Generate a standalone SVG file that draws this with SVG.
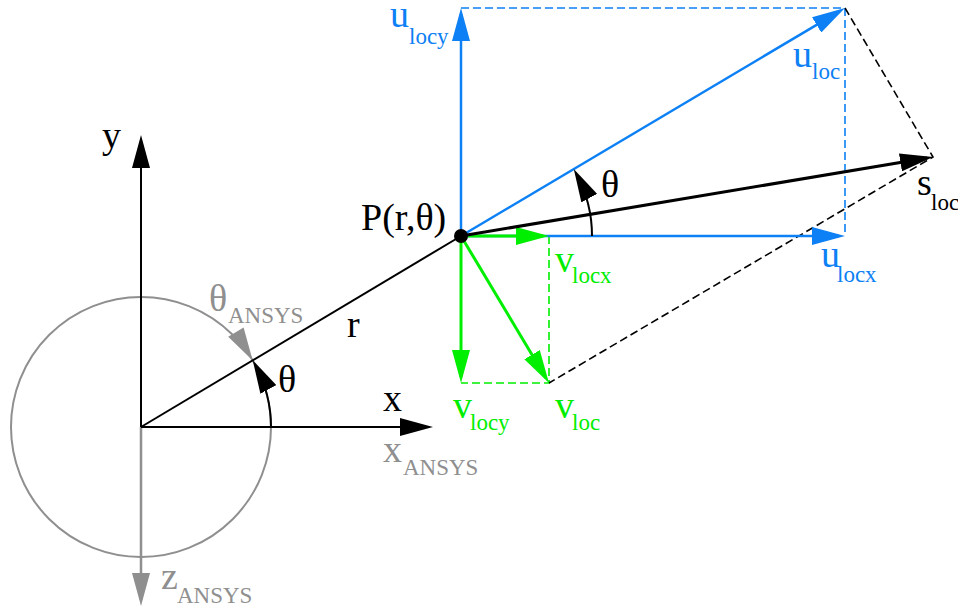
<svg xmlns="http://www.w3.org/2000/svg" width="958" height="607" viewBox="0 0 958 607">
<style>
text{font-family:"Liberation Serif","Times New Roman",serif;font-size:38px}
.sub{font-size:23px}
.k{fill:#000}
.g{fill:#8f8f8f}
.b{fill:#0c80f4}
.gr{fill:#00ee00}
.ln{fill:none;stroke-linecap:butt}
.dash{fill:none;stroke-width:1.6;stroke-dasharray:8,4}
</style>
<defs>
<marker id="ak" markerUnits="userSpaceOnUse" markerWidth="33" markerHeight="18" viewBox="0 0 33 18" refX="27" refY="9" orient="auto"><path d="M0,0 L33,9 L0,18 z" fill="#000"/></marker>
<marker id="ab" markerUnits="userSpaceOnUse" markerWidth="33" markerHeight="18" viewBox="0 0 33 18" refX="27" refY="9" orient="auto"><path d="M0,0 L33,9 L0,18 z" fill="#0c80f4"/></marker>
<marker id="ag" markerUnits="userSpaceOnUse" markerWidth="33" markerHeight="18" viewBox="0 0 33 18" refX="27" refY="9" orient="auto"><path d="M0,0 L33,9 L0,18 z" fill="#00ee00"/></marker>
<marker id="ay" markerUnits="userSpaceOnUse" markerWidth="33" markerHeight="18" viewBox="0 0 33 18" refX="27" refY="9" orient="auto"><path d="M0,0 L33,9 L0,18 z" fill="#8f8f8f"/></marker>
</defs>
<rect width="958" height="607" fill="#fff"/>

<g id="connectors">
  <circle cx="141" cy="427" r="130" fill="none" stroke="#8f8f8f" stroke-width="2"/>
  <line x1="141" y1="427" x2="141" y2="600" class="ln" stroke="#8f8f8f" stroke-width="2.5" marker-end="url(#ay)"/>
  <polygon points="228.2,336.7 243.6,327.5 252.7,360.5" fill="#8f8f8f"/>
  <line x1="141" y1="427" x2="141" y2="141" class="ln" stroke="#000" stroke-width="2" marker-end="url(#ak)"/>
  <line x1="141" y1="427" x2="427" y2="427" class="ln" stroke="#000" stroke-width="2" marker-end="url(#ak)"/>
  <line x1="141" y1="427" x2="461" y2="236" class="ln" stroke="#000" stroke-width="2"/>
  <path d="M271,427 A130,130 0 0 0 255.6,365.6" class="ln" stroke="#000" stroke-width="2" marker-end="url(#ak)"/>
  <path d="M461,8 H845 V236" class="dash" stroke="#0c80f4"/>
  <path d="M549,236 V383 H461" class="dash" stroke="#00ee00"/>
  <path d="M845,8 L933,157 L549,383" class="dash" stroke="#000"/>
  <line x1="461" y1="236" x2="461" y2="14" class="ln" stroke="#0c80f4" stroke-width="2.5" marker-end="url(#ab)"/>
  <line x1="461" y1="236" x2="839" y2="236" class="ln" stroke="#0c80f4" stroke-width="2.5" marker-end="url(#ab)"/>
  <line x1="461" y1="236" x2="839.8" y2="11.1" class="ln" stroke="#0c80f4" stroke-width="2.5" marker-end="url(#ab)"/>
  <line x1="461" y1="236" x2="543" y2="236" class="ln" stroke="#00ee00" stroke-width="3" marker-end="url(#ag)"/>
  <line x1="461" y1="236" x2="461" y2="377" class="ln" stroke="#00ee00" stroke-width="3" marker-end="url(#ag)"/>
  <line x1="461" y1="236" x2="545.9" y2="377.9" class="ln" stroke="#00ee00" stroke-width="3" marker-end="url(#ag)"/>
  <line x1="461" y1="236" x2="927.1" y2="158" class="ln" stroke="#000" stroke-width="3" marker-end="url(#ak)"/>
  <path d="M592,236 A131,131 0 0 0 576.6,174.3" class="ln" stroke="#000" stroke-width="2" marker-end="url(#ak)"/>
</g>

<g id="P">
  <circle cx="461" cy="236" r="7" fill="#000"/>
  <text x="361" y="230" class="k">P(r,θ)</text>
</g>
<g id="label-y"><text x="102" y="148" class="k">y</text></g>
<g id="label-x"><text x="383" y="411" class="k">x</text></g>
<g id="label-r"><text x="347" y="337" class="k">r</text></g>
<g id="label-theta"><text x="278" y="392" class="k">θ</text></g>
<g id="label-theta-p"><text x="601" y="197" class="k">θ</text></g>
<g id="label-xansys"><text class="g"><tspan x="383" y="462">x</tspan><tspan x="403" y="475" class="sub">ANSYS</tspan></text></g>
<g id="label-zansys"><text class="g"><tspan x="161" y="589">z</tspan><tspan x="177" y="603" class="sub">ANSYS</tspan></text></g>
<g id="label-thetaansys"><text class="g"><tspan x="209" y="311">θ</tspan><tspan x="228" y="323" class="sub">ANSYS</tspan></text></g>
<g id="label-ulocy"><text class="b"><tspan x="390" y="27">u</tspan><tspan x="409" y="44" class="sub">locy</tspan></text></g>
<g id="label-uloc"><text class="b"><tspan x="793" y="67">u</tspan><tspan x="812" y="79" class="sub">loc</tspan></text></g>
<g id="label-ulocx"><text class="b"><tspan x="821" y="267">u</tspan><tspan x="837" y="282" class="sub">locx</tspan></text></g>
<g id="label-sloc"><text class="k"><tspan x="917" y="195">s</tspan><tspan x="931" y="210" class="sub">loc</tspan></text></g>
<g id="label-vlocx"><text class="gr"><tspan x="555" y="272">v</tspan><tspan x="572" y="283" class="sub">locx</tspan></text></g>
<g id="label-vlocy"><text class="gr"><tspan x="453" y="418">v</tspan><tspan x="470" y="430" class="sub">locy</tspan></text></g>
<g id="label-vloc"><text class="gr"><tspan x="555" y="418">v</tspan><tspan x="572" y="430" class="sub">loc</tspan></text></g>
</svg>
